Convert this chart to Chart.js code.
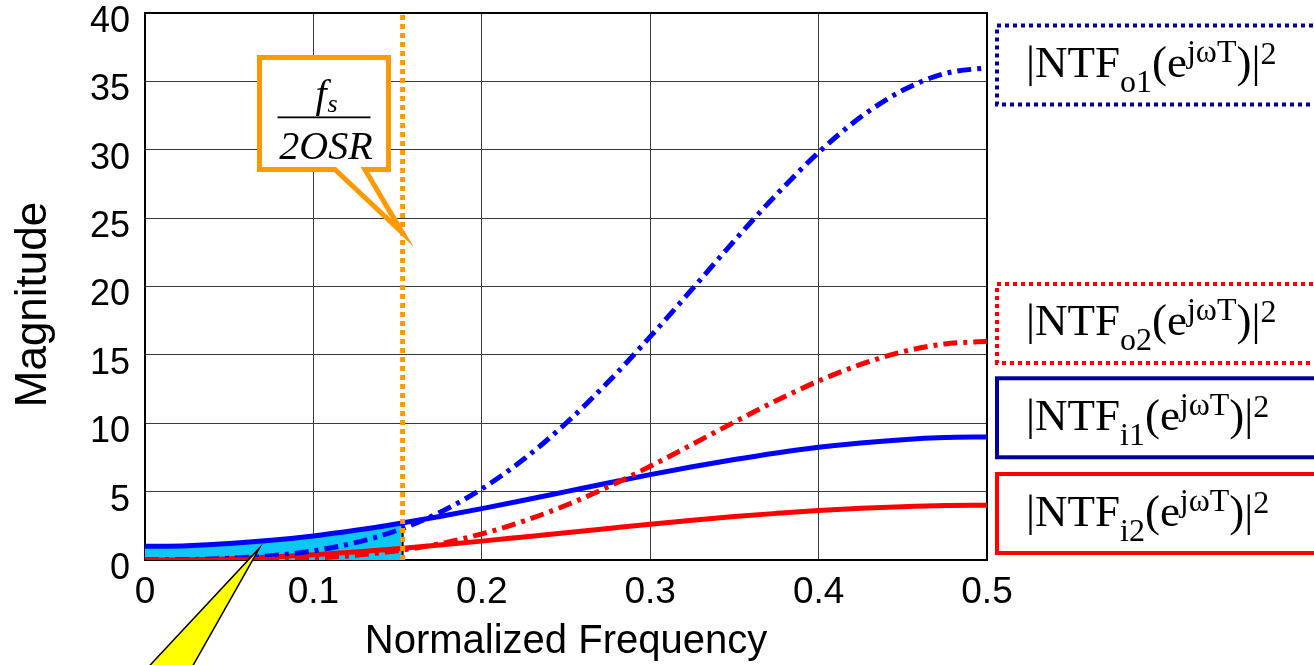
<!DOCTYPE html>
<html>
<head>
<meta charset="utf-8">
<script src="https://cdn.jsdelivr.net/npm/chart.js@4.4.1/dist/chart.umd.min.js"></script>
<style>
  html, body { margin: 0; padding: 0; background: #fff; }
  #wrap { width: 1314px; height: 665px; position: relative; }
</style>
</head>
<body>
<div id="wrap"><canvas id="ntfChart"></canvas></div>
<script>
// normalized frequency samples
const freq = [0, 0.025, 0.05, 0.075, 0.1, 0.125, 0.15, 0.175, 0.2, 0.225, 0.25,
  0.275, 0.3, 0.325, 0.35, 0.375, 0.4, 0.425, 0.45, 0.475, 0.5]

// |NTF|^2 curves
const ntfO1 = [0, 0.03, 0.12, 0.31, 0.67, 1.27, 2.18, 3.48, 5.2, 7.38, 10.0,
  13.01, 16.33, 19.82, 23.35, 26.73, 29.8, 32.39, 34.35, 35.58, 36.0]
const ntfO2 = [0, 0, 0.01, 0.05, 0.15, 0.34, 0.68, 1.19, 1.91, 2.85, 4.0,
  5.35, 6.85, 8.46, 10.09, 11.66, 13.09, 14.3, 15.23, 15.8, 16.0]
const ntfI1 = [1.0, 1.05, 1.2, 1.44, 1.76, 2.17, 2.65, 3.18, 3.76, 4.37, 5.0,
  5.63, 6.24, 6.82, 7.35, 7.83, 8.24, 8.56, 8.8, 8.95, 9.0]
const ntfI2 = [0, 0.02, 0.1, 0.22, 0.38, 0.59, 0.82, 1.09, 1.38, 1.69, 2.0,
  2.31, 2.62, 2.91, 3.18, 3.41, 3.62, 3.78, 3.9, 3.98, 4.0]

// signal band fs/(2OSR) and shaded area under |NTF_i1|^2
const bandEdge = 0.153
const shadeFreq = [0, 0.025, 0.05, 0.075, 0.1, 0.125, 0.15, 0.153]
const shadeTop = [1.0, 1.05, 1.2, 1.44, 1.76, 2.17, 2.65, 2.71]

const xTickLabels = ["0", "0.1", "0.2", "0.3", "0.4", "0.5"]
const yTickLabels = ["0", "5", "10", "15", "20", "25", "30", "35", "40"]

const legendSubs = ["o1", "o2", "i1", "i2"]
const legendCenters = [36.2, 17.3, 10.4, 3.4]

const BLUE = "#0000ff"
const RED = "#ff0000"
const NAVY = "#000099"
const ORANGE = "#ff9900"
const CYAN = "#0dc8f5"
const SANS = "'Liberation Sans', Arial, sans-serif"
const SERIF = "'Liberation Serif', 'Times New Roman', serif"

const toPoints = (xs, ys) => xs.map((x, i) => ({ x, y: ys[i] }))

function curve(label, values, color, dashed, order) {
  return {
    label,
    data: toPoints(freq, values),
    borderColor: color,
    borderWidth: 5,
    borderDash: dashed ? [14, 6, 4, 6] : [],
    pointRadius: 0,
    cubicInterpolationMode: "monotone",
    fill: false,
    order
  }
}

// ---- annotation drawing ----
function drawBox(ctx, a) {
  ctx.save()
  ctx.strokeStyle = "#000"
  ctx.lineWidth = 2
  ctx.strokeRect(a.left, a.top, a.right - a.left, a.bottom - a.top)
  ctx.restore()
}

function drawYTitle(chart) {
  const { ctx, chartArea } = chart
  ctx.save()
  ctx.translate(34, (chartArea.top + chartArea.bottom) / 2 + 18)
  ctx.rotate(-Math.PI / 2)
  ctx.font = "44px " + SANS
  ctx.fillStyle = "#000"
  ctx.textAlign = "center"
  ctx.textBaseline = "middle"
  ctx.fillText("Magnitude", 0, 0)
  ctx.restore()
}

function drawYellowPointer(chart) {
  const { ctx, scales } = chart
  const tipX = scales.x.getPixelForValue(0.068)
  const tipY = scales.y.getPixelForValue(0.88)
  ctx.save()
  ctx.beginPath()
  ctx.moveTo(tipX, tipY)
  ctx.lineTo(scales.x.getPixelForValue(0.028), chart.height + 2)
  ctx.lineTo(scales.x.getPixelForValue(0.002), chart.height + 2)
  ctx.closePath()
  ctx.fillStyle = "#ffff00"
  ctx.fill()
  ctx.strokeStyle = "#000"
  ctx.lineWidth = 1.5
  ctx.stroke()
  ctx.restore()
}

function drawBandCallout(chart) {
  const { ctx, scales } = chart
  const xs = scales.x, ys = scales.y
  const left = xs.getPixelForValue(0.068)
  const right = xs.getPixelForValue(0.1446)
  const top = ys.getPixelForValue(36.75)
  const bottom = ys.getPixelForValue(28.56)
  const tailL = xs.getPixelForValue(0.1128)
  const tailR = xs.getPixelForValue(0.1306)
  const tipX = xs.getPixelForValue(bandEdge)
  const tipY = ys.getPixelForValue(23.9)

  ctx.save()
  ctx.beginPath()
  ctx.moveTo(left, top)
  ctx.lineTo(right, top)
  ctx.lineTo(right, bottom)
  ctx.lineTo(tailR, bottom)
  ctx.lineTo(tipX, tipY)
  ctx.lineTo(tailL, bottom)
  ctx.lineTo(left, bottom)
  ctx.closePath()
  ctx.fillStyle = "#fff"
  ctx.fill()
  ctx.strokeStyle = ORANGE
  ctx.lineWidth = 5
  ctx.lineJoin = "miter"
  ctx.stroke()

  // fraction fs / 2OSR
  const cx = (left + right) / 2 + 2
  ctx.fillStyle = "#000"
  ctx.textBaseline = "alphabetic"
  ctx.font = "italic 40px " + SERIF
  const fW = ctx.measureText("f").width
  ctx.font = "italic 26px " + SERIF
  const sW = ctx.measureText("s").width
  const fx = cx - (fW + sW) / 2
  ctx.textAlign = "left"
  ctx.font = "italic 40px " + SERIF
  ctx.fillText("f", fx, top + 50)
  ctx.font = "italic 26px " + SERIF
  ctx.fillText("s", fx + fW + 1, top + 55)

  ctx.fillRect(left + 18, top + 59, right - left - 36, 1.8)

  ctx.font = "italic 40px " + SERIF
  ctx.textAlign = "center"
  ctx.fillText("2OSR", cx, top + 102)
  ctx.restore()
}

function drawNtfLabel(ctx, x, y, sub) {
  const big = "45px " + SERIF
  const small = "32px " + SERIF
  const parts = [
    ["|NTF", big, 0],
    [sub, small, 15],
    ["(e", big, 0],
    ["jωT", small, -15],
    [")|", big, 0],
    ["2", small, -13]
  ]
  ctx.textAlign = "left"
  ctx.textBaseline = "alphabetic"
  ctx.fillStyle = "#000"
  let cx = x
  parts.forEach(([t, f, dy]) => {
    ctx.font = f
    ctx.fillText(t, cx, y + dy)
    cx += ctx.measureText(t).width
  })
}

function drawLegendBoxes(chart) {
  const { ctx, chartArea, scales } = chart
  const styles = [
    { color: NAVY, dotted: true },
    { color: RED, dotted: true },
    { color: NAVY, dotted: false },
    { color: RED, dotted: false }
  ]
  const left = chartArea.right + 10
  const h = 79
  ctx.save()
  legendSubs.forEach((sub, i) => {
    const cy = scales.y.getPixelForValue(legendCenters[i])
    const st = styles[i]
    ctx.strokeStyle = st.color
    ctx.lineWidth = 4
    ctx.setLineDash(st.dotted ? [4, 4] : [])
    ctx.strokeRect(left, cy - h / 2, chart.width + 20 - left, h)
    ctx.setLineDash([])
    drawNtfLabel(ctx, left + 29, cy + 12, sub)
  })
  ctx.restore()
}

const annotations = {
  id: "annotations",
  beforeDatasetsDraw(chart) {
    drawBox(chart.ctx, chart.chartArea)
  },
  afterDraw(chart) {
    drawYTitle(chart)
    drawYellowPointer(chart)
    drawBandCallout(chart)
    drawLegendBoxes(chart)
  }
}

const ctx = document.getElementById("ntfChart").getContext("2d")
new Chart(ctx, {
  type: "line",
  data: {
    datasets: [
      {
        label: "fs/2OSR",
        data: [{ x: bandEdge, y: 0 }, { x: bandEdge, y: 40 }],
        borderColor: ORANGE,
        borderWidth: 5,
        borderDash: [5, 4],
        pointRadius: 0,
        fill: false,
        order: 0
      },
      curve("NTFo2", ntfO2, RED, true, 1),
      curve("NTFo1", ntfO1, BLUE, true, 2),
      curve("NTFi2", ntfI2, RED, false, 3),
      curve("NTFi1", ntfI1, BLUE, false, 4),
      {
        label: "band edge",
        data: [{ x: bandEdge, y: 0 }, { x: bandEdge, y: shadeTop[shadeTop.length - 1] }],
        borderColor: "#000",
        borderWidth: 2,
        pointRadius: 0,
        fill: false,
        order: 5
      },
      {
        label: "shade",
        data: toPoints(shadeFreq, shadeTop),
        borderWidth: 0,
        borderColor: CYAN,
        backgroundColor: CYAN,
        pointRadius: 0,
        cubicInterpolationMode: "monotone",
        fill: "origin",
        order: 6
      }
    ]
  },
  options: {
    responsive: true,
    maintainAspectRatio: false,
    animation: false,
    layout: { padding: { left: 0, top: 13, right: 327, bottom: 0 } },
    plugins: {
      legend: { display: false },
      tooltip: { enabled: false }
    },
    scales: {
      x: {
        type: "linear",
        min: 0,
        max: 0.5,
        grid: { color: "#3a3a3a", lineWidth: 1, drawTicks: false },
        border: { display: false },
        ticks: {
          stepSize: 0.1,
          padding: 11,
          color: "#000",
          font: { family: SANS, size: 37, lineHeight: 1.2 },
          maxRotation: 0,
          callback: (v, i) => xTickLabels[i]
        },
        title: {
          display: true,
          text: "Normalized Frequency",
          color: "#000",
          font: { family: SANS, size: 40, lineHeight: 1 },
          padding: { top: 0, bottom: 3 }
        },
        afterFit(scale) {
          scale.height = 105
          scale.paddingLeft = 0
          scale.paddingRight = 0
        }
      },
      y: {
        min: 0,
        max: 40,
        grid: { color: "#3a3a3a", lineWidth: 1, drawTicks: false },
        border: { display: false },
        ticks: {
          stepSize: 5,
          padding: 15,
          labelOffset: 9,
          color: "#000",
          font: { family: SANS, size: 36 },
          callback: (v, i) => yTickLabels[i]
        },
        title: { display: false },
        afterFit(scale) {
          scale.width = 145
          scale.paddingTop = 0
          scale.paddingBottom = 0
        }
      }
    }
  },
  plugins: [annotations]
})
</script>
</body>
</html>
